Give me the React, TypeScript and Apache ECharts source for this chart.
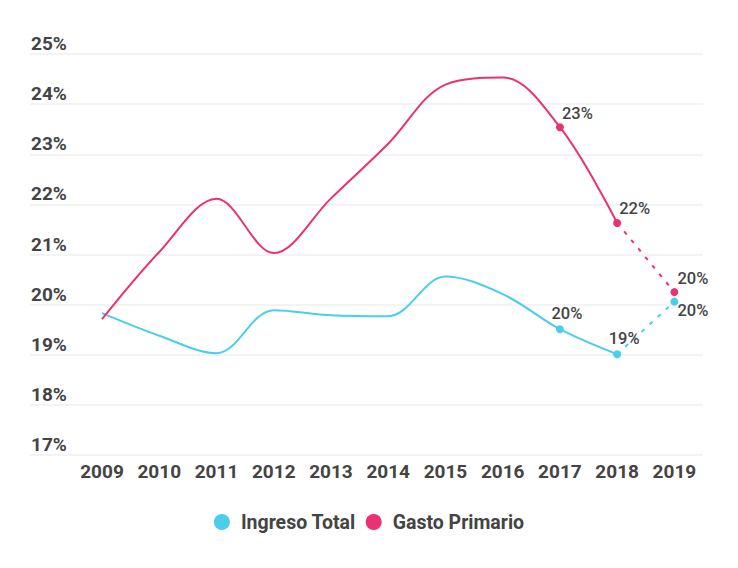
import React, { useEffect, useRef } from "react";
import * as echarts from "echarts";

const years = ["2009", "2010", "2011", "2012", "2013", "2014", "2015", "2016", "2017", "2018", "2019"];
const ingresoTotal = [19.83, 19.38, 19.03, 19.89, 19.79, 19.77, 20.56, 20.21, 19.51, 19.01, 20.06];
const gastoPrimario = [19.71, 21.05, 22.11, 21.03, 22.12, 23.21, 24.39, 24.53, 23.54, 21.63, 20.25];
const ingresoLabels = ["", "", "", "", "", "", "", "", "20%", "19%", "20%"];
const gastoLabels = ["", "", "", "", "", "", "", "", "23%", "22%", "20%"];
const yTicks = [17, 18, 19, 20, 21, 22, 23, 24, 25];

const CYAN = "#4BCDEE";
const PINK = "#EA3270";
const TEXT = "#444444";
const FONT = "Roboto, 'Noto Sans', sans-serif";

export default function App() {
  const ref = useRef<HTMLDivElement>(null);
  useEffect(() => {
    if (!ref.current) return;
    const chart = echarts.init(ref.current, undefined, { renderer: "svg" });

    const firstMarked = 8;
    const labelFor = (labels: string[], i: number, offset: number[], position: any, extra: any = {}) => ({
      show: labels[i] !== "",
      formatter: labels[i],
      position,
      offset,
      color: TEXT,
      fontFamily: FONT,
      fontSize: 16.5,
      fontWeight: 500,
      ...extra,
    });

    const buildSolid = (vals: number[], labels: string[], kind: string) =>
      vals.map((v, i) => {
        if (i > 9) return null;
        const marked = i >= firstMarked && i <= 9;
        return {
          value: v,
          symbolSize: marked ? 8 : 0,
          label:
            kind === "cyan"
              ? labelFor(labels, i, [7, 0], "top", { distance: 3 })
              : labelFor(labels, i, [-3, -14], "right", { distance: 1 }),
        };
      });

    const buildDashed = (vals: number[], labels: string[], kind: string) =>
      vals.map((v, i) => {
        if (i < 9) return null;
        const last = i === 10;
        return {
          value: v,
          symbolSize: last ? 8 : 0,
          label: last
            ? kind === "cyan"
              ? labelFor(labels, i, [-2, 9], "right", { distance: 1 })
              : labelFor(labels, i, [-2, -14], "right", { distance: 1 })
            : { show: false },
        };
      });

    const option: any = {
      animation: false,
      backgroundColor: "#ffffff",
      textStyle: { fontFamily: FONT },
      grid: [
        { left: 30, right: 35, top: 54, bottom: 113 },
        { left: 73.4, right: 35, top: 54, bottom: 113 },
      ],
      legend: {
        bottom: 31,
        left: "center",
        icon: "circle",
        itemWidth: 16,
        itemHeight: 16,
        itemGap: 10,
        data: ["Ingreso Total", "Gasto Primario"],
        textStyle: {
          color: TEXT,
          fontFamily: FONT,
          fontSize: 19.5,
          fontWeight: "bold",
          padding: [0, 0, 0, 6],
        },
      },
      xAxis: [
        {
          gridIndex: 0,
          type: "category",
          data: years,
          show: false,
        },
        {
          gridIndex: 1,
          type: "category",
          data: years,
          boundaryGap: true,
          axisLine: { show: false },
          axisTick: { show: false },
          axisLabel: {
            color: TEXT,
            fontFamily: FONT,
            fontSize: 19,
            fontWeight: "bold",
            margin: 7,
          },
          splitLine: { show: false },
        },
      ],
      yAxis: [
        {
          gridIndex: 0,
          type: "value",
          min: yTicks[0],
          max: yTicks[yTicks.length - 1],
          interval: 1,
          axisLine: { show: false },
          axisTick: { show: false },
          axisLabel: {
            inside: true,
            margin: 1,
            align: "left",
            verticalAlign: "bottom",
            padding: [0, 0, 1, 0],
            color: TEXT,
            fontFamily: FONT,
            fontSize: 19,
            fontWeight: "bold",
            formatter: (v: number) => `${v}%`,
          },
          splitLine: { lineStyle: { color: "#EFEFEF", width: 1.5 } },
        },
        {
          gridIndex: 1,
          type: "value",
          min: yTicks[0],
          max: yTicks[yTicks.length - 1],
          interval: 1,
          show: false,
          splitLine: { show: false },
        },
      ],
      series: [
        {
          name: "Ingreso Total",
          type: "line",
          xAxisIndex: 1,
          yAxisIndex: 1,
          smooth: 0.35,
          symbol: "circle",
          showAllSymbol: true,
          color: CYAN,
          lineStyle: { color: CYAN, width: 2 },
          itemStyle: { color: CYAN },
          data: buildSolid(ingresoTotal, ingresoLabels, "cyan"),
          z: 3,
        },
        {
          name: "Gasto Primario",
          type: "line",
          xAxisIndex: 1,
          yAxisIndex: 1,
          smooth: 0.35,
          symbol: "circle",
          showAllSymbol: true,
          color: PINK,
          lineStyle: { color: PINK, width: 2 },
          itemStyle: { color: PINK },
          data: buildSolid(gastoPrimario, gastoLabels, "pink"),
          z: 3,
        },
        {
          name: "Ingreso Total",
          type: "line",
          xAxisIndex: 1,
          yAxisIndex: 1,
          symbol: "circle",
          showAllSymbol: true,
          color: CYAN,
          lineStyle: { color: CYAN, width: 2, type: [4, 7] },
          itemStyle: { color: CYAN },
          data: buildDashed(ingresoTotal, ingresoLabels, "cyan"),
          z: 2,
        },
        {
          name: "Gasto Primario",
          type: "line",
          xAxisIndex: 1,
          yAxisIndex: 1,
          symbol: "circle",
          showAllSymbol: true,
          color: PINK,
          lineStyle: { color: PINK, width: 2, type: [4, 7] },
          itemStyle: { color: PINK },
          data: buildDashed(gastoPrimario, gastoLabels, "pink"),
          z: 2,
        },
      ],
    };
    chart.setOption(option);
    return () => chart.dispose();
  }, []);

  return <div ref={ref} style={{ width: 738, height: 568, margin: -8 }} />;
}
